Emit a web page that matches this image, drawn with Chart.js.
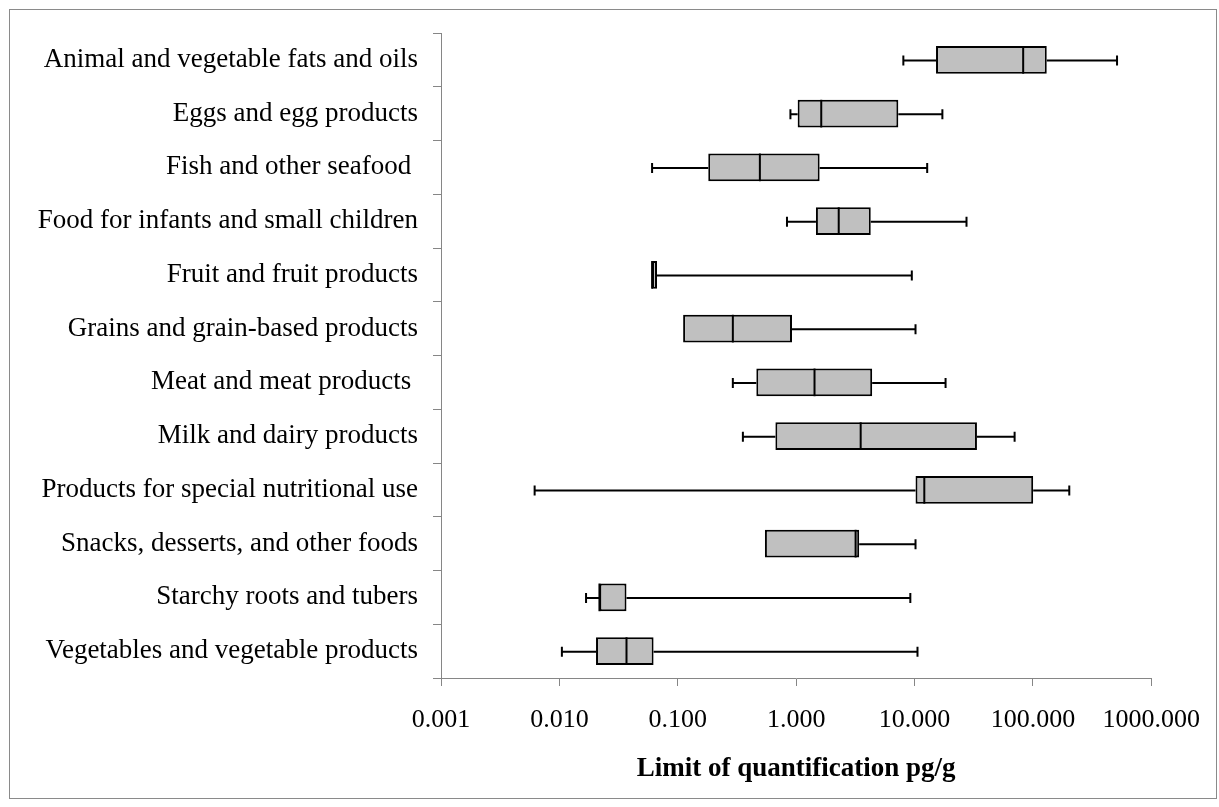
<!DOCTYPE html>
<html>
<head>
<meta charset="utf-8">
<title>Limit of quantification by food category</title>
<script src="https://cdn.jsdelivr.net/npm/chart.js@4.4.1/dist/chart.umd.min.js"></script>
<style>
  html, body { margin: 0; padding: 0; background: #fff; }
  #wrap { position: relative; width: 1219px; height: 807px; }
</style>
</head>
<body>
<div id="wrap"><canvas id="c" width="1219" height="807"></canvas></div>
<script>
// Food categories, top to bottom
const categories = [
  'Animal and vegetable fats and oils',
  'Eggs and egg products',
  'Fish and other seafood ',
  'Food for infants and small children',
  'Fruit and fruit products',
  'Grains and grain-based products',
  'Meat and meat products ',
  'Milk and dairy products',
  'Products for special nutritional use',
  'Snacks, desserts, and other foods',
  'Starchy roots and tubers',
  'Vegetables and vegetable products'
];

// Box-plot statistics, pg/g
const whiskerLow  = [8.05, 0.895, 0.0607, 0.837, 0.0607, 0.111, 0.292, 0.355, 0.00618, 0.545, 0.0168, 0.0105];
const q1          = [15.2, 1.03,  0.181,  1.47,  0.0607, 0.111, 0.461, 0.668, 10.2,    0.545, 0.0218, 0.0204];
const median      = [82.8, 1.63,  0.494,  2.29,  0.0607, 0.292, 1.43,  3.51,  12.1,    3.18,  0.0218, 0.0369];
const q3          = [131,  7.3,   1.58,   4.27,  0.0668, 0.923, 4.39,  33.7,  100.6,   3.41,  0.0369, 0.0625];
const whiskerHigh = [514,  17.2,  12.8,   27.5,  9.49,   10.2,  18.3,  70.1,  203,     10.2,  9.22,   10.6];

// Decade ticks on the log axis
const tickValues = [0.001, 0.01, 0.1, 1, 10, 100, 1000];
const tickLabels = ['0.001', '0.010', '0.100', '1.000', '10.000', '100.000', '1000.000'];

const AXIS_GRAY = '#868686';
const FONT = "'Liberation Serif', 'Times New Roman', serif";

// Outer chart border
const framePlugin = {
  id: 'frame',
  beforeDraw(chart) {
    const ctx = chart.ctx;
    ctx.save();
    ctx.fillStyle = '#fff';
    ctx.fillRect(0, 0, chart.width, chart.height);
    ctx.strokeStyle = '#8a8a8a';
    ctx.lineWidth = 1;
    ctx.strokeRect(9.5, 9.5, 1207, 789);
    ctx.restore();
  }
};

// Whiskers behind the boxes, median lines on top
const boxExtras = {
  id: 'boxExtras',
  beforeDatasetsDraw(chart) {
    const ctx = chart.ctx, xs = chart.scales.x, ys = chart.scales.y;
    ctx.save();
    ctx.strokeStyle = '#000';
    ctx.lineWidth = 2;
    categories.forEach((c, i) => {
      const y = ys.getPixelForValue(i) + 0.5;
      const pLo = xs.getPixelForValue(whiskerLow[i]);
      const pQ1 = xs.getPixelForValue(q1[i]);
      const pQ3 = xs.getPixelForValue(q3[i]);
      const pHi = xs.getPixelForValue(whiskerHigh[i]);
      ctx.beginPath();
      ctx.moveTo(pLo, y); ctx.lineTo(pQ1, y);
      ctx.moveTo(pQ3, y); ctx.lineTo(pHi, y);
      if (whiskerLow[i] < q1[i]) { ctx.moveTo(pLo, y - 5); ctx.lineTo(pLo, y + 5); }
      if (whiskerHigh[i] > q3[i]) { ctx.moveTo(pHi, y - 5); ctx.lineTo(pHi, y + 5); }
      ctx.stroke();
    });
    ctx.restore();
  },
  afterDatasetsDraw(chart) {
    const ctx = chart.ctx, xs = chart.scales.x;
    const meta = chart.getDatasetMeta(0);
    ctx.save();
    ctx.strokeStyle = '#000';
    ctx.lineWidth = 2;
    meta.data.forEach((bar, i) => {
      const px = xs.getPixelForValue(median[i]);
      const h = bar.height / 2;
      ctx.beginPath();
      ctx.moveTo(px, bar.y - h);
      ctx.lineTo(px, bar.y + h);
      ctx.stroke();
    });
    ctx.restore();
  }
};

new Chart(document.getElementById('c'), {
  type: 'bar',
  data: {
    labels: categories,
    datasets: [{
      data: categories.map((c, i) => [q1[i], q3[i]]),
      backgroundColor: '#c0c0c0',
      borderColor: '#000',
      borderWidth: 2,
      borderSkipped: false,
      inflateAmount: 0,
      barPercentage: 0.515,
      categoryPercentage: 1
    }]
  },
  options: {
    indexAxis: 'y',
    responsive: false,
    animation: false,
    events: [],
    layout: { padding: { top: 33, right: 65, left: 0, bottom: 0 } },
    plugins: { legend: { display: false }, tooltip: { enabled: false } },
    scales: {
      x: {
        type: 'logarithmic',
        min: 0.001,
        max: 1000,
        afterBuildTicks(scale) { scale.ticks = tickValues.map(v => ({ value: v })); },
        afterFit(scale) { scale.height = 129; },
        ticks: {
          autoSkip: false,
          maxRotation: 0,
          padding: 19,
          color: '#000',
          font: { family: FONT, size: 26 },
          callback: (v, i) => tickLabels[i]
        },
        grid: { drawOnChartArea: false, drawTicks: true, tickLength: 8, color: AXIS_GRAY, lineWidth: 1 },
        border: { color: AXIS_GRAY, width: 1 },
        title: {
          display: true,
          text: 'Limit of quantification pg/g',
          color: '#000',
          font: { family: FONT, size: 27, weight: 'bold' },
          padding: { top: 0, bottom: 22 }
        }
      },
      y: {
        type: 'category',
        offset: true,
        afterFit(scale) { scale.width = 441; },
        ticks: {
          autoSkip: false,
          padding: 15,
          color: '#000',
          font: { family: FONT, size: 27 }
        },
        grid: { offset: true, drawOnChartArea: false, drawTicks: true, tickLength: 8, color: AXIS_GRAY, lineWidth: 1 },
        border: { color: AXIS_GRAY, width: 1 }
      }
    }
  },
  plugins: [framePlugin, boxExtras]
});
</script>
</body>
</html>
